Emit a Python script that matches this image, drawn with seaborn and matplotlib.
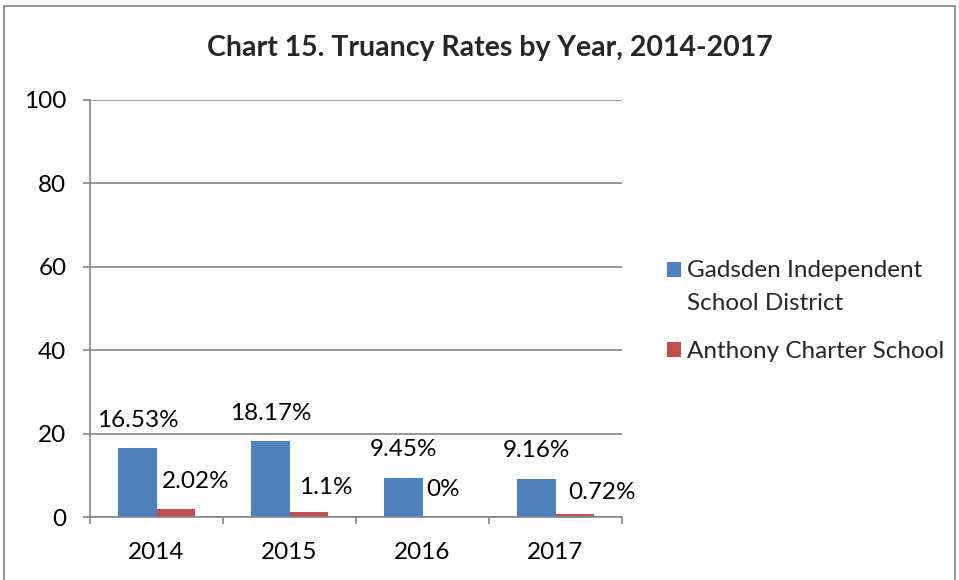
import matplotlib
matplotlib.use("Agg")
import matplotlib.pyplot as plt
import matplotlib.patches as mpatches
from matplotlib.legend_handler import HandlerPatch
import seaborn as sns
import pandas as pd

years = ["2014", "2015", "2016", "2017"]
gadsden = [16.53, 18.17, 9.45, 9.16]
anthony = [2.02, 1.1, 0.0, 0.72]
series_names = ["Gadsden Independent\nSchool District", "Anthony Charter School"]
colors = ["#4F81BD", "#C0504D"]
yticks = [0, 20, 40, 60, 80, 100]

df = pd.DataFrame({
    "year": years * 2,
    "rate": gadsden + anthony,
    "school": [series_names[0]] * 4 + [series_names[1]] * 4,
})

sns.set_theme(style="white")
plt.rcParams["font.family"] = ["Lato", "DejaVu Sans"]

FS = 17.5
W, H = 959, 580
fig = plt.figure(figsize=(W / 100, H / 100), dpi=100)
ax = fig.add_axes([90 / W, 1 - 517 / H, (622 - 90) / W, (517 - 100) / H])

sns.barplot(data=df, x="year", y="rate", hue="school", palette=colors,
            width=0.575, saturation=1, ax=ax, edgecolor="none", legend=True)

ax.set_ylim(0, 100)
ax.set_xlim(-0.5, 3.5)
ax.set_yticks(yticks)
ax.set_yticklabels([str(t) for t in yticks])
ax.set_xlabel("")
ax.set_ylabel("")
gc = "#868686"
ax.yaxis.grid(True, color=gc, linewidth=1.2)
ax.set_axisbelow(True)
for s in ["top", "right"]:
    ax.spines[s].set_visible(False)
for s in ["left", "bottom"]:
    ax.spines[s].set_color(gc)
    ax.spines[s].set_linewidth(1.2)

ax.tick_params(axis="y", which="major", left=True, length=5, width=1.2, color=gc,
               pad=12, labelsize=FS, labelcolor="black")
ax.tick_params(axis="x", which="major", bottom=False, pad=12, labelsize=FS,
               labelcolor="black")
ax.set_xticks([-0.5, 0.5, 1.5, 2.5, 3.5], minor=True)
ax.tick_params(axis="x", which="minor", bottom=True, length=5, width=1.2, color=gc)

# data labels
x_offsets = [[0, 0, 0, 0], [20, 17, 1, 27]]
y_offsets = [[28, 28, 28, 28], [27, 25, 27, 21]]
for si, cont in enumerate(ax.containers):
    for bi, bar in enumerate(cont):
        h = bar.get_height()
        xc = bar.get_x() + bar.get_width() / 2
        ax.annotate(f"{h:g}%", (xc, h), xytext=(x_offsets[si][bi], y_offsets[si][bi]),
                    textcoords="offset pixels", ha="center", va="center",
                    fontsize=FS, color="black", annotation_clip=False)


# legend (marker aligned with first text line)
def shifted_square(shift):
    def f(legend, orig_handle, xdescent, ydescent, width, height, fontsize):
        return mpatches.Rectangle((-xdescent, -ydescent + shift), width, height)
    return f


handles, labels = ax.get_legend_handles_labels()
ax.get_legend().remove()
hmap = {handles[0]: HandlerPatch(patch_func=shifted_square(12.3)),
        handles[1]: HandlerPatch(patch_func=shifted_square(0))}
leg = fig.legend(handles, labels, loc="upper left", bbox_to_anchor=(657 / W, 1 - 250 / H),
                 frameon=False, fontsize=FS, handlelength=0.6, handleheight=0.6,
                 handletextpad=0.25, labelspacing=1.12, borderaxespad=0,
                 handler_map=hmap)
for t in leg.get_texts():
    t.set_linespacing(1.72)

fig.text(490 / W, 1 - 48 / H, "Chart 15. Truancy Rates by Year, 2014-2017",
         ha="center", va="center", fontsize=20.5, fontweight="bold")

# chart border
fig.patches.append(mpatches.Rectangle((4 / W, -0.05), (955 - 4) / W, 1.05 - 6 / H,
                                      transform=fig.transFigure, fill=False,
                                      edgecolor="#868686", linewidth=1.2))

fig.savefig("out.png", dpi=100)
